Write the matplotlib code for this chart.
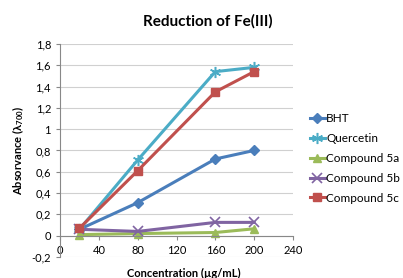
import matplotlib
matplotlib.use('Agg')
from matplotlib import pyplot as plt

plt.rcParams['font.family'] = ['Lato', 'DejaVu Sans']

conc = [20, 80, 160, 200]
bht = [0.06, 0.31, 0.72, 0.80]
quercetin = [0.06, 0.71, 1.54, 1.58]
compound_5a = [0.01, 0.02, 0.03, 0.065]
compound_5b = [0.06, 0.04, 0.125, 0.125]
compound_5c = [0.07, 0.61, 1.35, 1.54]

y_ticks = [-0.2, 0, 0.2, 0.4, 0.6, 0.8, 1.0, 1.2, 1.4, 1.6, 1.8]
x_ticks = [0, 40, 80, 120, 160, 200, 240]

fig = plt.figure(figsize=(4.03, 2.78), dpi=100)
ax = fig.add_axes([0.149, 0.0755, 0.578, 0.7665])

ax.plot(conc, bht, color='#4A7EBB', lw=2.2, marker='D', ms=5, label='BHT')
ax.plot(conc, quercetin, color='#4BACC6', lw=2.2, marker=(6, 2, 0), ms=8, mew=1.1, label='Quercetin')
ax.plot(conc, compound_5a, color='#9BBB59', lw=2.2, marker='^', ms=6, label='Compound 5a')
ax.plot(conc, compound_5b, color='#8064A2', lw=2.2, marker='x', ms=7, mew=1.2, label='Compound 5b')
ax.plot(conc, compound_5c, color='#C0504D', lw=2.2, marker='s', ms=6, label='Compound 5c')

ax.set_xlim(0, 240)
ax.set_ylim(-0.2, 1.8)
ax.set_xticks(x_ticks)
ax.set_yticks(y_ticks)
ax.set_yticklabels([('%g' % v).replace('.', ',') for v in y_ticks])
ax.tick_params(labelsize=8, length=3, color='#888888')
ax.grid(axis='y', color='#d0d0d0', lw=0.8)
ax.set_axisbelow(True)

for s in ['top', 'right']:
    ax.spines[s].set_visible(False)
ax.spines['bottom'].set_position(('data', 0))
ax.spines['bottom'].set_color('#888888')
ax.spines['left'].set_color('#888888')

fig.text(0.515, 0.925, 'Reduction of Fe(III)', fontsize=11, fontweight='bold', ha='center', va='center')
ax.set_ylabel(r'Absorvance ($\mathregular{\lambda_{700}}$)', fontsize=8, fontweight='bold')
fig.text(0.455, 0.005, 'Concentration (\u00b5g/mL)', fontsize=8, fontweight='bold', ha='center')

ax.legend(loc='center left', bbox_to_anchor=(1.026, 0.463), frameon=False, fontsize=8.5,
          handlelength=1.3, handletextpad=0.1, labelspacing=0.75)

fig.savefig('out.png', dpi=100)
